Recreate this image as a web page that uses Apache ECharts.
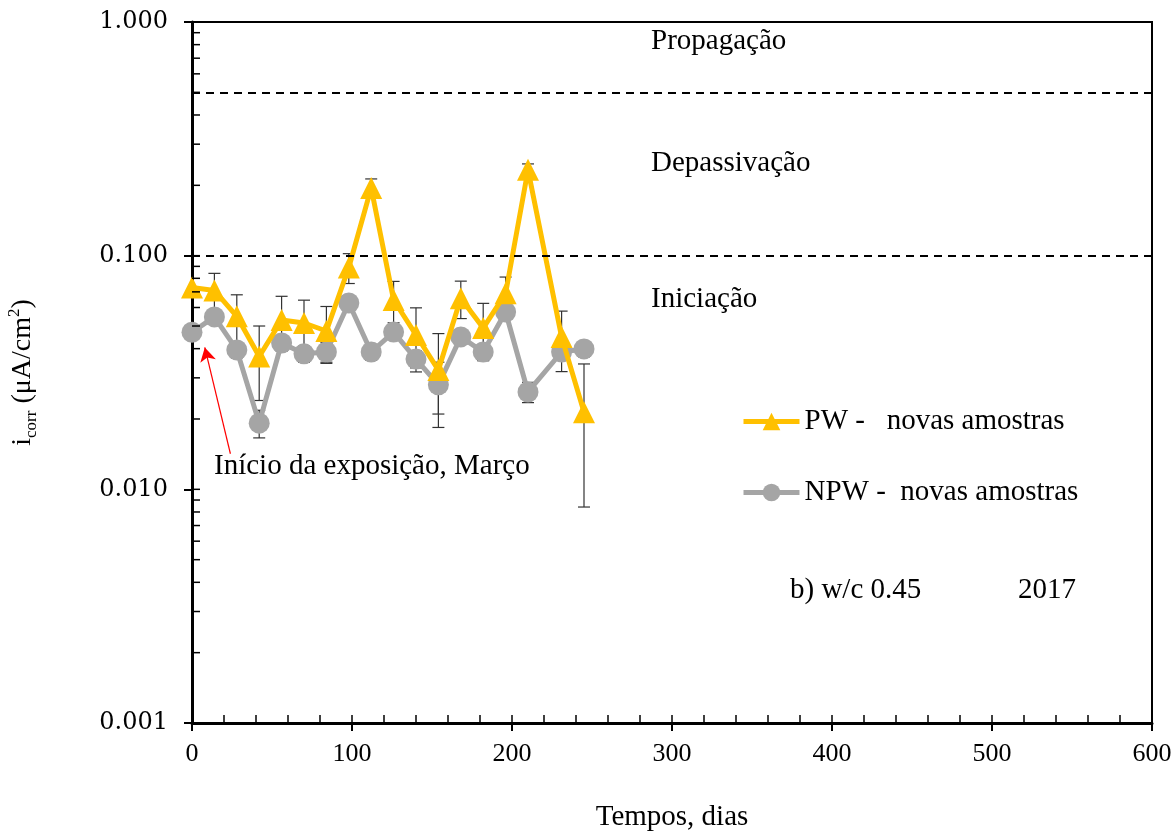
<!DOCTYPE html>
<html>
<head>
<meta charset="utf-8">
<script src="https://cdn.jsdelivr.net/npm/echarts@6/dist/echarts.min.js"></script>
<style>
  html, body { margin: 0; padding: 0; background: #fff; }
  #chart { width: 1176px; height: 834px; }
</style>
</head>
<body>
<div id="chart"></div>
<script>
// days of exposure
var days = [0, 14, 28, 42, 56, 70, 84, 98, 112, 126, 140, 154, 168, 182, 196, 210, 231, 245];
// PW - novas amostras
var pwValues = [0.073, 0.071, 0.055, 0.037, 0.053, 0.0515, 0.0476, 0.089, 0.195, 0.0646, 0.0458, 0.0324, 0.0658, 0.049, 0.069, 0.233, 0.0449, 0.0214];
var pwErr = [0, 0.013, 0.013, 0.013, 0.014, 0.013, 0.013, 0.013, 0.018, 0.013, 0.014, 0.014, 0.012, 0.0135, 0.012, 0.014, 0.013, 0.013];
// NPW - novas amostras
var npwValues = [0.047, 0.0547, 0.0395, 0.0192, 0.0423, 0.038, 0.0387, 0.0627, 0.0387, 0.0471, 0.0361, 0.028, 0.0449, 0.0387, 0.0574, 0.0261, 0.0387, 0.0399];
var npwErr = [0, 0.003, 0.003, 0.0026, 0.003, 0.003, 0.0037, 0.003, 0.003, 0.003, 0.003, 0.007, 0.003, 0.003, 0.003, 0.0026, 0.003, 0.003];
// limits between stages
var limits = [0.5, 0.1];
// inner tick marks
var yInnerTicks = [0.002, 0.003, 0.004, 0.005, 0.006, 0.007, 0.008, 0.009, 0.01,
    0.02, 0.03, 0.04, 0.05, 0.06, 0.07, 0.08, 0.09, 0.1,
    0.2, 0.3, 0.4, 0.5, 0.6, 0.7, 0.8, 0.9];
var xInnerTicks = [];
for (var k = 20; k < 600; k += 20) xInnerTicks.push(k);

var serif = "'Liberation Serif', 'Times New Roman', serif";

function pairs(xs, ys) {
    return xs.map(function (x, i) { return [x, ys[i]]; });
}
function errRows(xs, ys, es) {
    var out = [];
    xs.forEach(function (x, i) {
        if (es[i] > 0) out.push([x, ys[i] - es[i], ys[i] + es[i]]);
    });
    return out;
}
function renderErr(params, api) {
    var x = api.value(0);
    var lo = api.coord([x, api.value(1)]);
    var hi = api.coord([x, api.value(2)]);
    var w = 6;
    var st = { stroke: '#333', lineWidth: 1.2 };
    return {
        type: 'group',
        children: [
            { type: 'line', shape: { x1: lo[0], y1: lo[1], x2: hi[0], y2: hi[1] }, style: st },
            { type: 'line', shape: { x1: hi[0] - w, y1: hi[1], x2: hi[0] + w, y2: hi[1] }, style: st },
            { type: 'line', shape: { x1: lo[0] - w, y1: lo[1], x2: lo[0] + w, y2: lo[1] }, style: st }
        ]
    };
}

var chart = echarts.init(document.getElementById('chart'), null, { renderer: 'canvas' });

var option = {
    backgroundColor: '#fff',
    animation: false,
    grid: {
        left: 192, right: 24, top: 22, bottom: 111,
        outerBoundsMode: 'none',
        show: true, borderColor: '#000', borderWidth: 2, backgroundColor: 'transparent'
    },
    legend: {
        orient: 'vertical',
        left: 736,
        top: 402,
        itemWidth: 56,
        itemHeight: 22,
        itemGap: 42,
        data: ['PW -   novas amostras', 'NPW -  novas amostras'],
        lineStyle: { width: 5 },
        textStyle: { fontFamily: serif, fontSize: 29, color: '#000' }
    },
    xAxis: {
        type: 'value',
        min: 0, max: 600, interval: 100,
        name: 'Tempos, dias',
        nameLocation: 'middle',
        nameGap: 80,
        nameTextStyle: { fontFamily: serif, fontSize: 29, color: '#000' },
        axisLine: { show: true, onZero: false, lineStyle: { color: '#000', width: 3 } },
        axisTick: { show: true, inside: false, length: 8, lineStyle: { color: '#000', width: 2 } },
        axisLabel: { fontFamily: serif, fontSize: 26, color: '#000', margin: 18 },
        splitLine: { show: false }
    },
    yAxis: {
        type: 'log',
        logBase: 10,
        min: 0.001, max: 1,
        name: '{i|i}{sub|corr}{i| (μA/cm}{sup|2}{i|)}',
        nameLocation: 'middle',
        nameGap: 152,
        nameTextStyle: {
            rich: {
                i: { fontFamily: serif, fontSize: 28, color: '#000', lineHeight: 34, verticalAlign: 'middle' },
                sub: { fontFamily: serif, fontSize: 17, color: '#000', verticalAlign: 'bottom', lineHeight: 34 },
                sup: { fontFamily: serif, fontSize: 17, color: '#000', verticalAlign: 'top', lineHeight: 34 }
            }
        },
        axisLine: { show: true, onZero: false, lineStyle: { color: '#000', width: 3 } },
        axisTick: { show: true, inside: false, length: 8, lineStyle: { color: '#000', width: 2 } },
        axisLabel: {
            fontFamily: "'DejaVu Serif', serif", fontSize: 24, color: '#000', margin: 24,
            formatter: function (v) { return Number(v).toFixed(3); }
        },
        splitLine: { show: false }
    },
    graphic: [
        { type: 'text', left: 651, top: 27, style: { text: 'Propagação', font: '29px ' + serif, fill: '#000' } },
        { type: 'text', left: 651, top: 149, style: { text: 'Depassivação', font: '29px ' + serif, fill: '#000' } },
        { type: 'text', left: 651, top: 285, style: { text: 'Iniciação', font: '29px ' + serif, fill: '#000' } },
        { type: 'text', left: 214, top: 452, style: { text: 'Início da exposição, Março', font: '29px ' + serif, fill: '#000' } },
        { type: 'text', left: 790, top: 576, style: { text: 'b) w/c 0.45', font: '29px ' + serif, fill: '#000' } },
        { type: 'text', left: 1018, top: 576, style: { text: '2017', font: '29px ' + serif, fill: '#000' } }
    ],
    series: [
        {
            type: 'custom',
            name: 'yTicks',
            silent: true,
            z: 5,
            data: yInnerTicks.map(function (v) { return [0, v]; }),
            encode: { x: 0, y: 1 },
            clip: false,
            renderItem: function (params, api) {
                var p = api.coord([api.value(0), api.value(1)]);
                return { type: 'line', shape: { x1: p[0], y1: p[1], x2: p[0] + 8, y2: p[1] }, style: { stroke: '#000', lineWidth: 1.5 } };
            }
        },
        {
            type: 'custom',
            name: 'xTicks',
            silent: true,
            z: 5,
            data: xInnerTicks.map(function (v) { return [v, 0.001]; }),
            encode: { x: 0, y: 1 },
            clip: false,
            renderItem: function (params, api) {
                var p = api.coord([api.value(0), api.value(1)]);
                return { type: 'line', shape: { x1: p[0], y1: p[1], x2: p[0], y2: p[1] - 8 }, style: { stroke: '#000', lineWidth: 1.5 } };
            }
        },
        {
            type: 'custom',
            name: 'npwErr',
            silent: true,
            z: 2,
            data: errRows(days, npwValues, npwErr),
            encode: { x: 0, y: [1, 2] },
            renderItem: renderErr
        },
        {
            type: 'custom',
            name: 'pwErr',
            silent: true,
            z: 2,
            data: errRows(days, pwValues, pwErr),
            encode: { x: 0, y: [1, 2] },
            renderItem: renderErr
        },
        {
            type: 'line',
            name: 'NPW -  novas amostras',
            z: 3,
            data: pairs(days, npwValues),
            symbol: 'circle',
            symbolSize: 21,
            itemStyle: { color: '#A5A5A5' },
            lineStyle: { color: '#A5A5A5', width: 5 },
            markLine: {
                silent: true,
                symbol: ['none', 'arrow'],
                symbolSize: [12, 14],
                label: { show: false },
                lineStyle: { color: '#FF0000', width: 1.2, type: 'solid' },
                data: [[{ coord: [24, 0.0142] }, { coord: [8, 0.0405] }]]
            }
        },
        {
            type: 'line',
            name: 'PW -   novas amostras',
            z: 4,
            data: pairs(days, pwValues),
            symbol: 'triangle',
            symbolSize: 22,
            itemStyle: { color: '#FFC000' },
            lineStyle: { color: '#FFC000', width: 5 },
            markLine: {
                silent: true,
                symbol: ['none', 'none'],
                label: { show: false },
                lineStyle: { color: '#000', width: 2, type: [8, 6] },
                data: limits.map(function (v) { return { yAxis: v }; })
            }
        }
    ]
};

chart.setOption(option);
</script>
</body>
</html>
